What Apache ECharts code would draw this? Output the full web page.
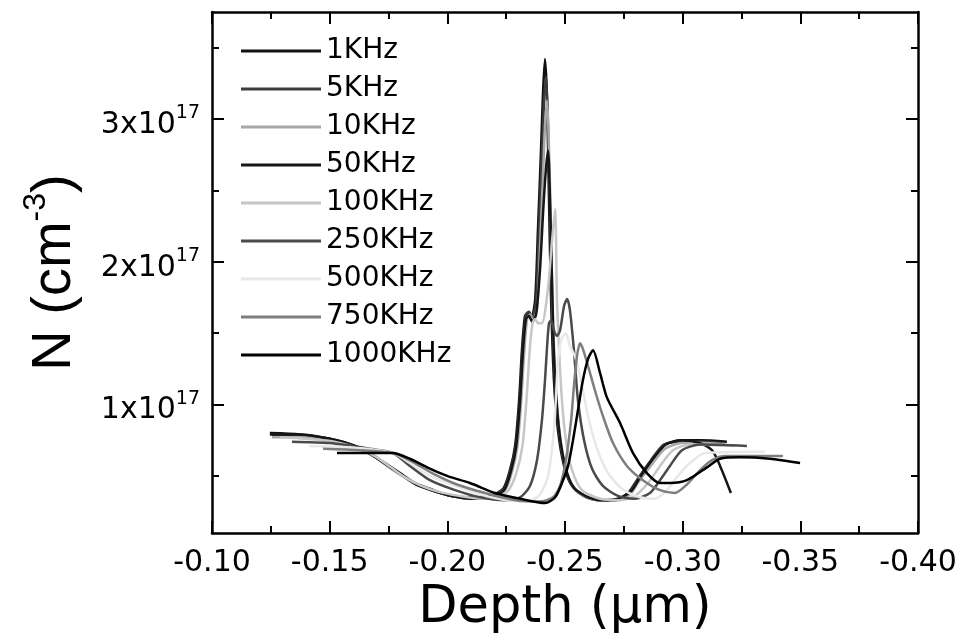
<!DOCTYPE html>
<html>
<head>
<meta charset="utf-8">
<script src="https://cdn.jsdelivr.net/npm/echarts@6/dist/echarts.min.js"></script>
<style>
  html, body { margin: 0; padding: 0; background: #fff; }
  #chart { width: 967px; height: 642px; }
</style>
</head>
<body>
<div id="chart"></div>
<script>
// depth in um (negative, plotted right-to-left), N in units of 1e17 cm^-3
var freqNames = ['1KHz', '5KHz', '10KHz', '50KHz', '100KHz', '250KHz', '500KHz', '750KHz', '1000KHz'];
var lineColors = ['#111111', '#3c3c3c', '#a8a8a8', '#161616', '#c6c6c6', '#4a4a4a', '#e8e8e8', '#7e7e7e', '#000000'];

var n1k = [[-0.1246,0.80],[-0.1374,0.79],[-0.1501,0.76],[-0.1608,0.71],[-0.1671,0.66],[-0.1735,0.59],[-0.1799,0.52],[-0.1863,0.45],[-0.1926,0.41],[-0.2011,0.36],[-0.2096,0.35],[-0.2181,0.36],[-0.2237,0.41],[-0.2266,0.54],[-0.2288,0.71],[-0.2305,1.03],[-0.2317,1.38],[-0.2330,1.62],[-0.2343,1.64],[-0.2356,1.60],[-0.2373,1.73],[-0.2385,2.22],[-0.2398,2.78],[-0.2407,3.20],[-0.2415,3.42],[-0.2424,3.13],[-0.2432,2.43],[-0.2441,1.73],[-0.2453,1.17],[-0.2470,0.82],[-0.2496,0.57],[-0.2530,0.43],[-0.2585,0.36],[-0.2649,0.33],[-0.2712,0.33],[-0.2768,0.38],[-0.2806,0.47],[-0.2861,0.59],[-0.2916,0.71],[-0.2989,0.75],[-0.3074,0.75],[-0.3188,0.74]];
var n5k = [[-0.1255,0.79],[-0.1374,0.78],[-0.1501,0.75],[-0.1608,0.70],[-0.1675,0.65],[-0.1740,0.58],[-0.1803,0.51],[-0.1867,0.44],[-0.1930,0.40],[-0.2015,0.36],[-0.2100,0.34],[-0.2185,0.36],[-0.2241,0.41],[-0.2270,0.55],[-0.2292,0.72],[-0.2309,1.05],[-0.2321,1.40],[-0.2334,1.63],[-0.2347,1.65],[-0.2360,1.61],[-0.2377,1.72],[-0.2389,2.20],[-0.2402,2.75],[-0.2411,3.12],[-0.2419,3.30],[-0.2428,2.95],[-0.2436,2.35],[-0.2445,1.68],[-0.2458,1.14],[-0.2475,0.80],[-0.2500,0.56],[-0.2534,0.42],[-0.2590,0.35],[-0.2653,0.33],[-0.2716,0.33],[-0.2772,0.38],[-0.2810,0.48],[-0.2865,0.61],[-0.2920,0.72],[-0.2993,0.74],[-0.3080,0.74],[-0.3167,0.73]];
var n10k = [[-0.1255,0.77],[-0.1380,0.77],[-0.1505,0.74],[-0.1612,0.70],[-0.1680,0.65],[-0.1744,0.57],[-0.1808,0.50],[-0.1871,0.44],[-0.1935,0.40],[-0.2020,0.36],[-0.2105,0.34],[-0.2190,0.35],[-0.2245,0.40],[-0.2275,0.53],[-0.2297,0.70],[-0.2313,1.00],[-0.2326,1.35],[-0.2339,1.60],[-0.2352,1.63],[-0.2365,1.59],[-0.2382,1.68],[-0.2394,2.10],[-0.2407,2.62],[-0.2415,2.95],[-0.2424,3.13],[-0.2432,2.80],[-0.2441,2.20],[-0.2449,1.60],[-0.2462,1.10],[-0.2479,0.78],[-0.2504,0.55],[-0.2538,0.42],[-0.2594,0.35],[-0.2657,0.33],[-0.2720,0.33],[-0.2776,0.37],[-0.2814,0.46],[-0.2869,0.58],[-0.2925,0.69],[-0.2997,0.73],[-0.3085,0.73],[-0.3180,0.72]];
var n50k = [[-0.1246,0.79],[-0.1374,0.79],[-0.1501,0.76],[-0.1608,0.71],[-0.1675,0.65],[-0.1740,0.58],[-0.1803,0.51],[-0.1867,0.44],[-0.1930,0.40],[-0.2015,0.36],[-0.2100,0.34],[-0.2185,0.35],[-0.2241,0.40],[-0.2270,0.53],[-0.2292,0.70],[-0.2309,1.02],[-0.2321,1.36],[-0.2334,1.60],[-0.2347,1.62],[-0.2360,1.58],[-0.2377,1.63],[-0.2394,1.95],[-0.2407,2.35],[-0.2419,2.65],[-0.2428,2.78],[-0.2436,2.45],[-0.2445,1.85],[-0.2453,1.35],[-0.2466,0.98],[-0.2483,0.72],[-0.2509,0.52],[-0.2542,0.41],[-0.2598,0.35],[-0.2661,0.33],[-0.2725,0.34],[-0.2780,0.39],[-0.2819,0.49],[-0.2874,0.62],[-0.2929,0.72],[-0.3000,0.75],[-0.3074,0.73],[-0.3125,0.68],[-0.3159,0.57],[-0.3205,0.38]];
var n100k = [[-0.1289,0.77],[-0.1400,0.76],[-0.1520,0.74],[-0.1629,0.69],[-0.1700,0.63],[-0.1760,0.56],[-0.1820,0.49],[-0.1890,0.43],[-0.1960,0.39],[-0.2050,0.36],[-0.2140,0.34],[-0.2210,0.35],[-0.2260,0.40],[-0.2295,0.53],[-0.2320,0.72],[-0.2337,1.05],[-0.2350,1.38],[-0.2362,1.57],[-0.2373,1.60],[-0.2385,1.57],[-0.2402,1.57],[-0.2428,1.82],[-0.2445,2.15],[-0.2458,2.37],[-0.2466,1.73],[-0.2475,1.38],[-0.2487,1.03],[-0.2504,0.75],[-0.2530,0.54],[-0.2572,0.40],[-0.2649,0.34],[-0.2734,0.33],[-0.2797,0.36],[-0.2853,0.45],[-0.2904,0.57],[-0.2959,0.68],[-0.3031,0.72],[-0.3222,0.71]];
var n250k = [[-0.1340,0.74],[-0.1501,0.73],[-0.1671,0.69],[-0.1769,0.66],[-0.1841,0.57],[-0.1926,0.47],[-0.2033,0.40],[-0.2139,0.35],[-0.2245,0.33],[-0.2309,0.35],[-0.2351,0.43],[-0.2381,0.61],[-0.2402,0.89],[-0.2415,1.17],[-0.2424,1.41],[-0.2432,1.57],[-0.2441,1.59],[-0.2453,1.52],[-0.2466,1.48],[-0.2479,1.52],[-0.2496,1.69],[-0.2509,1.74],[-0.2521,1.66],[-0.2538,1.38],[-0.2555,1.03],[-0.2581,0.75],[-0.2615,0.55],[-0.2661,0.43],[-0.2725,0.36],[-0.2797,0.34],[-0.2861,0.38],[-0.2904,0.47],[-0.2946,0.57],[-0.2997,0.68],[-0.3074,0.72],[-0.3273,0.71]];
var n500k = [[-0.1412,0.71],[-0.1586,0.70],[-0.1769,0.66],[-0.1841,0.59],[-0.1926,0.50],[-0.2033,0.43],[-0.2139,0.37],[-0.2266,0.33],[-0.2351,0.33],[-0.2394,0.37],[-0.2428,0.50],[-0.2449,0.75],[-0.2462,1.06],[-0.2470,1.31],[-0.2483,1.45],[-0.2492,1.48],[-0.2504,1.50],[-0.2521,1.41],[-0.2542,1.34],[-0.2564,1.20],[-0.2598,0.92],[-0.2636,0.69],[-0.2683,0.52],[-0.2742,0.41],[-0.2819,0.35],[-0.2882,0.34],[-0.2933,0.40],[-0.2980,0.50],[-0.3031,0.59],[-0.3095,0.66],[-0.3350,0.67]];
var n750k = [[-0.1472,0.69],[-0.1629,0.68],[-0.1769,0.66],[-0.1850,0.60],[-0.1935,0.52],[-0.2041,0.44],[-0.2160,0.38],[-0.2288,0.33],[-0.2394,0.32],[-0.2449,0.35],[-0.2479,0.43],[-0.2504,0.61],[-0.2526,0.89],[-0.2538,1.13],[-0.2551,1.34],[-0.2564,1.43],[-0.2576,1.39],[-0.2598,1.27],[-0.2627,1.10],[-0.2661,0.92],[-0.2704,0.73],[-0.2763,0.57],[-0.2831,0.47],[-0.2904,0.40],[-0.2967,0.38],[-0.3018,0.44],[-0.3074,0.54],[-0.3125,0.61],[-0.3180,0.64],[-0.3426,0.64]];
var n1000k = [[-0.1531,0.66],[-0.1629,0.66],[-0.1769,0.66],[-0.1841,0.62],[-0.1914,0.56],[-0.1999,0.50],[-0.2096,0.45],[-0.2203,0.38],[-0.2309,0.34],[-0.2415,0.31],[-0.2458,0.35],[-0.2487,0.45],[-0.2513,0.57],[-0.2534,0.75],[-0.2555,0.96],[-0.2576,1.17],[-0.2598,1.32],[-0.2619,1.38],[-0.2649,1.22],[-0.2678,1.05],[-0.2734,0.87],[-0.2789,0.66],[-0.2848,0.52],[-0.2904,0.45],[-0.2946,0.45],[-0.3018,0.47],[-0.3103,0.56],[-0.3159,0.62],[-0.3244,0.63],[-0.3371,0.62],[-0.3499,0.59]];

var allData = [n1k, n5k, n10k, n50k, n100k, n250k, n500k, n750k, n1000k];
var yMajor = [1, 2, 3];
var yMinor = [0.5, 1.5, 2.5, 3.5];

var font = 'DejaVu Sans';
var myChart = echarts.init(document.getElementById('chart'));

var seriesList = [];
for (var i = 0; i < freqNames.length; i++) {
    seriesList.push({
        name: freqNames[i],
        type: 'line',
        data: allData[i],
        color: lineColors[i],
        symbol: 'none',
        smooth: 0.25,
        lineStyle: { width: 2.5, color: lineColors[i] }
    });
}

function yAxisBase(pos, isMajor, showLabel) {
    return {
        type: 'value',
        position: pos,
        min: 0.1,
        max: 3.75,
        axisLine: { show: isMajor, lineStyle: { color: '#000', width: 2.5 } },
        axisTick: {
            inside: true,
            length: isMajor ? 12 : 7,
            customValues: isMajor ? yMajor : yMinor,
            lineStyle: { color: '#000', width: 2 }
        },
        axisLabel: {
            show: showLabel,
            customValues: yMajor,
            margin: 12,
            formatter: function (v) { return '{b|' + Math.round(v) + 'x10}{s|17}'; },
            rich: {
                b: { fontSize: 30, lineHeight: 30, fontFamily: font, color: '#000', padding: [12, 0, 0, 0] },
                s: { fontSize: 19, lineHeight: 19, fontFamily: font, color: '#000', verticalAlign: 'top' }
            }
        },
        splitLine: { show: false }
    };
}

var yLeft = yAxisBase('left', true, true);
yLeft.name = '{b|N (cm}{s|-3}{b|)}';
yLeft.nameLocation = 'middle';
yLeft.nameGap = 136;
yLeft.nameTextStyle = {
    rich: {
        b: { fontSize: 56, lineHeight: 56, fontFamily: 'Liberation Sans', color: '#000', padding: [14, 0, 0, 0] },
        s: { fontSize: 32, lineHeight: 32, fontFamily: 'Liberation Sans', color: '#000', verticalAlign: 'top' }
    }
};

function xAxisBase(pos, showLabel) {
    return {
        type: 'value',
        position: pos,
        min: -0.40,
        max: -0.10,
        interval: 0.05,
        inverse: true,
        axisLine: { show: true, lineStyle: { color: '#000', width: 2.5 } },
        axisTick: { inside: true, length: 12, lineStyle: { color: '#000', width: 2 } },
        minorTick: { show: true, splitNumber: 2, length: 7, lineStyle: { color: '#000', width: 2 } },
        axisLabel: {
            show: showLabel,
            margin: 15,
            fontSize: 30,
            fontFamily: font,
            color: '#000',
            formatter: function (v) { return v.toFixed(2); }
        },
        splitLine: { show: false },
        minorSplitLine: { show: false }
    };
}

var xBottom = xAxisBase('bottom', true);
xBottom.name = 'Depth (\u03bcm)';
xBottom.nameLocation = 'middle';
xBottom.nameGap = 42;
xBottom.nameTextStyle = { fontSize: 51, lineHeight: 51, fontFamily: font, color: '#000' };

var option = {
    backgroundColor: '#fff',
    animation: false,
    grid: { left: 212, right: 49, top: 12, bottom: 109 },
    legend: {
        orient: 'vertical',
        left: 241,
        top: 37,
        icon: 'rect',
        itemWidth: 80,
        itemHeight: 3,
        itemGap: 10,
        padding: 0,
        data: freqNames,
        textStyle: { fontSize: 28, lineHeight: 28, fontFamily: font, color: '#000' }
    },
    xAxis: [xBottom, xAxisBase('top', false)],
    yAxis: [yLeft, yAxisBase('left', false, false), yAxisBase('right', true, false), yAxisBase('right', false, false)],
    series: seriesList
};
myChart.setOption(option);
</script>
</body>
</html>
